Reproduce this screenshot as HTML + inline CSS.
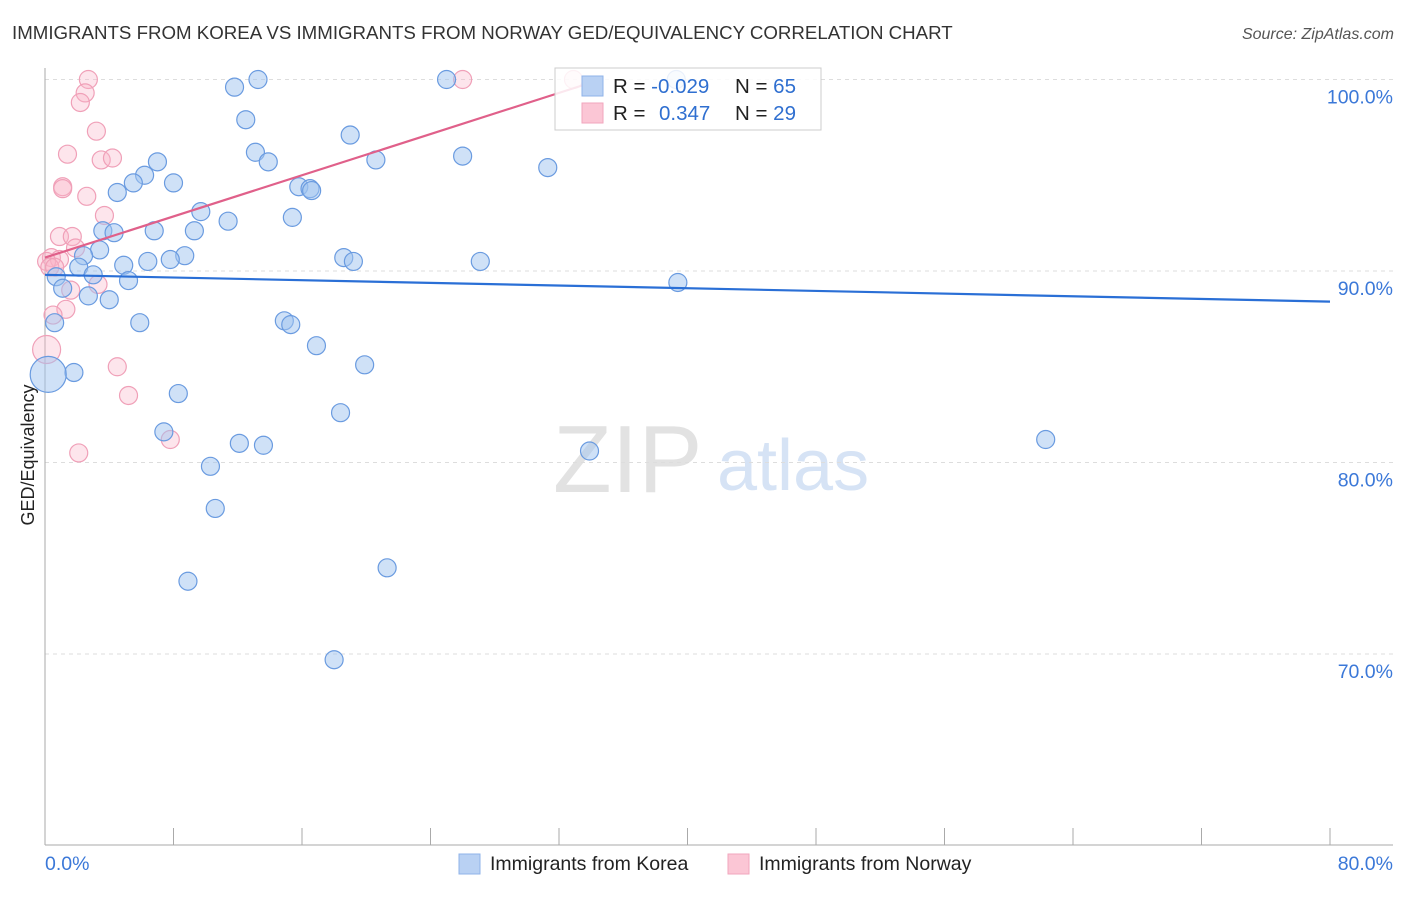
<!DOCTYPE html>
<html><head><meta charset="utf-8"><style>
body{margin:0;background:#fff;font-family:"Liberation Sans",sans-serif}
svg text{font-family:"Liberation Sans",sans-serif}
</style></head><body>
<svg width="1406" height="892" xmlns="http://www.w3.org/2000/svg">
<text x="12" y="39" font-size="18.7" fill="#333">IMMIGRANTS FROM KOREA VS IMMIGRANTS FROM NORWAY GED/EQUIVALENCY CORRELATION CHART</text>
<text x="1394" y="39" font-size="16" fill="#555" text-anchor="end" font-style="italic">Source: ZipAtlas.com</text>
<g>
<text x="553" y="492" font-size="96" fill="#e2e2e2" font-family="Liberation Serif, serif">ZIP</text>
<text x="717" y="490" font-size="72" fill="#d6e3f5">atlas</text>
</g>
<g id="grid"></g>
<g id="axes"></g>
<g id="marks"></g>
<text transform="translate(34,455) rotate(-90)" font-size="18" fill="#222" text-anchor="middle">GED/Equivalency</text>
<g>
<rect x="555" y="68" width="266" height="62" fill="rgba(255,255,255,0.85)" stroke="#ccc"/>
<rect x="582" y="76" width="21" height="20" fill="#b9d1f3" stroke="#8fb3e8"/>
<rect x="582" y="103" width="21" height="20" fill="#fbc6d5" stroke="#f2a6bd"/>
<text x="613" y="93" font-size="20.5" fill="#222">R = <tspan fill="#2f6fd0">-0.029</tspan></text>
<text x="735" y="93" font-size="20.5" fill="#222">N = <tspan fill="#2f6fd0">65</tspan></text>
<text x="613" y="120" font-size="20.5" fill="#222">R = <tspan fill="#2f6fd0" x="659">0.347</tspan></text>
<text x="735" y="120" font-size="20.5" fill="#222">N = <tspan fill="#2f6fd0">29</tspan></text>
</g>
<g>
<rect x="459" y="854" width="21" height="20" fill="#b9d1f3" stroke="#8fb3e8"/>
<text x="490" y="870" font-size="19.5" fill="#222">Immigrants from Korea</text>
<rect x="728" y="854" width="21" height="20" fill="#fbc6d5" stroke="#f2a6bd"/>
<text x="759" y="870" font-size="19.5" fill="#222">Immigrants from Norway</text>
</g>
</svg>
<script>
const yTicks=[100,90,80,70];
const xTickVals=[0,8,16,24,32,40,48,56,64,72,80];
const koreaX=[13.26,25.0,39.3,11.8,12.5,13.1,13.9,19.0,20.6,26.0,31.3,7.0,6.2,5.5,8.0,4.5,9.7,11.4,15.8,16.5,16.6,15.4,3.6,4.3,6.8,9.3,3.4,2.4,8.7,7.8,6.4,4.9,2.1,3.0,5.2,0.7,1.1,2.7,4.0,5.9,14.9,15.3,0.6,18.6,19.2,27.1,39.4,16.9,19.9,1.8,0.2,8.3,18.4,7.4,12.1,13.6,33.9,62.3,10.3,10.6,8.9,21.3,18.0];
const koreaY=[100,100,100,99.6,97.9,96.2,95.7,97.1,95.8,96.0,95.4,95.7,95.0,94.6,94.6,94.1,93.1,92.6,94.4,94.3,94.2,92.8,92.1,92.0,92.1,92.1,91.1,90.8,90.8,90.6,90.5,90.3,90.2,89.8,89.5,89.7,89.1,88.7,88.5,87.3,87.4,87.2,87.3,90.7,90.5,90.5,89.4,86.1,85.1,84.7,84.6,83.6,82.6,81.6,81.0,80.9,80.6,81.2,79.8,77.6,73.8,74.5,69.7];
const koreaBig=[50];
const norwayX=[2.7,26.0,32.9,2.5,2.2,3.2,1.4,3.5,4.2,1.1,1.1,2.6,3.7,0.9,1.7,1.9,0.4,0.9,0.1,0.3,0.6,3.3,1.6,1.3,0.5,0.1,4.5,5.2,7.8,2.1];
const norwayY=[100,100,100,99.3,98.8,97.3,96.1,95.8,95.9,94.4,94.3,93.9,92.9,91.8,91.8,91.2,90.7,90.6,90.5,90.2,90.2,89.3,89.0,88.0,87.7,85.9,85.0,83.5,81.2,80.5];
const norwayBig=[25];
const koreaTrend=[[0,89.8],[80,88.4]];
const norwayTrend=[[0,90.7],[34.6,100]];
const NS="http://www.w3.org/2000/svg";
const X=v=>45+v/80*1285, Y=v=>79.5+(100-v)*19.15;
function mk(t,a,p){const e=document.createElementNS(NS,t);for(const k in a)e.setAttribute(k,a[k]);p.appendChild(e);return e;}
const grid=document.getElementById('grid'),axes=document.getElementById('axes'),marks=document.getElementById('marks');
yTicks.forEach(v=>{
const l=mk('line',{x1:45,x2:1393,y1:Y(v),y2:Y(v),stroke:'#ddd','stroke-dasharray':'4,4'},grid);


const t=mk('text',{x:1393,y:Y(v)+24,'font-size':19.5,fill:'#3b78d8','text-anchor':'end'},grid);
t.textContent=v.toFixed(1)+'%';


});
const ya=mk('line',{x1:45,x2:45,y1:68,y2:845,stroke:'#aaa'},axes);


const xa=mk('line',{x1:45,x2:1393,y1:845,y2:845,stroke:'#aaa'},axes);


xTickVals.forEach(v=>{
const t=mk('line',{x1:X(v),x2:X(v),y1:828,y2:845,stroke:'#aaa'},axes);


});
[[0,'start','0.0%'],[80,'end','80.0%']].forEach(([v,a,s])=>{
const t=mk('text',{x:v==0?X(v):1393,y:870,'font-size':19.5,fill:'#3b78d8','text-anchor':a},axes);
t.textContent=s;


});
function pts(xs,ys,big,fill,stroke,name){xs.forEach((x,i)=>{
const c=mk('circle',{cx:X(x),cy:Y(ys[i]),r:big.includes(i)?(name=='korea-point'?18:14):9,fill:fill,stroke:stroke,'stroke-width':1.2},marks);


});}
pts(norwayX,norwayY,norwayBig,'rgba(248,180,200,0.35)','#f0a0b8','norway-point');
pts(koreaX,koreaY,koreaBig,'rgba(160,195,240,0.5)','#6a9be0','korea-point');
const kl=mk('line',{x1:X(koreaTrend[0][0]),y1:Y(koreaTrend[0][1]),x2:X(koreaTrend[1][0]),y2:Y(koreaTrend[1][1]),stroke:'#2a6fd6','stroke-width':2.2},marks);


const nl=mk('line',{x1:X(norwayTrend[0][0]),y1:Y(norwayTrend[0][1]),x2:X(norwayTrend[1][0]),y2:Y(norwayTrend[1][1]),stroke:'#e0608a','stroke-width':2.2},marks);


</script>
</body></html>
